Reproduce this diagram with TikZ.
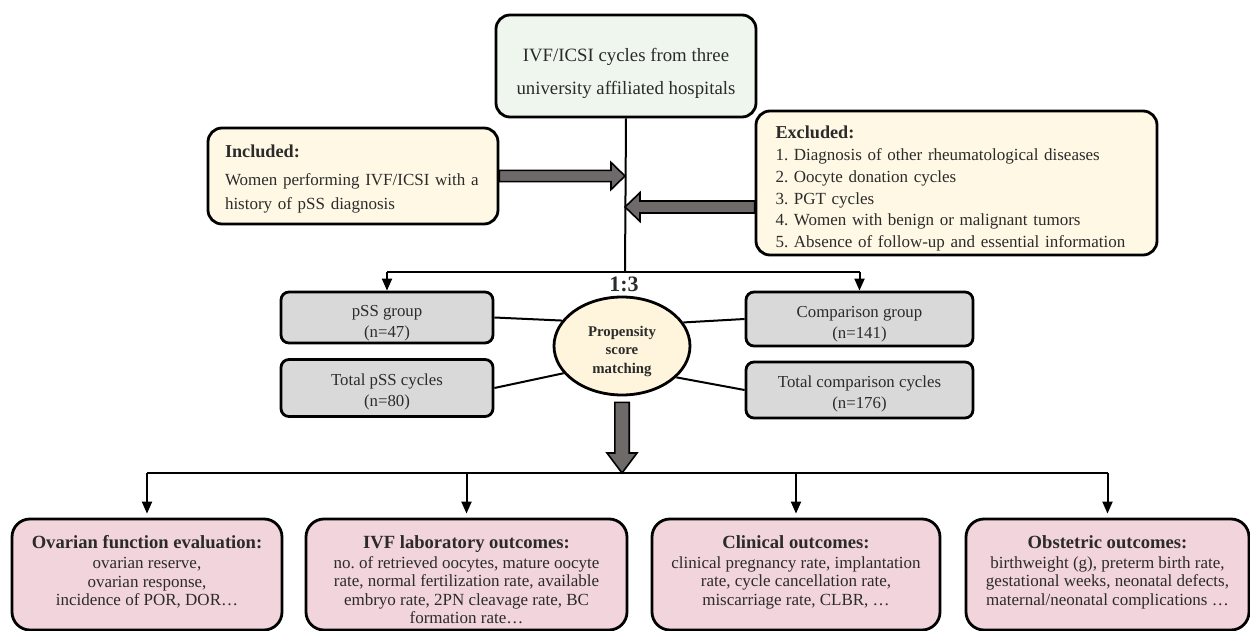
\documentclass[tikz,border=0pt]{standalone}
\usepackage{fontspec}
\setmainfont{Liberation Serif}
\usetikzlibrary{arrows.meta,calc,shapes.geometric}

\definecolor{srcgreen}{HTML}{EEF6EE}
\definecolor{critcream}{HTML}{FFF8E4}
\definecolor{psmcream}{HTML}{FFF5DC}
\definecolor{grpgray}{HTML}{D9D9D9}
\definecolor{outpink}{HTML}{F2D4DC}
\definecolor{fatgray}{HTML}{6E6A6A}
\definecolor{txtgray}{HTML}{2B2B2B}

\newcommand{\padtop}[1]{\rule{0pt}{#1}}

\tikzset{
  box/.style={draw, line width=1.4pt, text=txtgray, align=center, inner sep=0pt},
  srcbox/.style={box, fill=srcgreen, rounded corners=7pt, minimum width=130pt, minimum height=51pt, font=\fontsize{9.4}{16.5}\selectfont},
  critbox/.style={box, fill=critcream, rounded corners=7pt, align=left},
  grpbox/.style={box, fill=grpgray, rounded corners=4pt, font=\fontsize{8.4}{10.5}\selectfont},
  outbox/.style={box, fill=outpink, rounded corners=9pt, minimum height=55.5pt},
  outtext/.style={text=txtgray, align=center, inner sep=0pt, anchor=north, font=\fontsize{8.5}{9.2}\selectfont},
  psm/.style={draw, ellipse, line width=1.4pt, fill=psmcream, minimum width=68pt, minimum height=49pt, inner sep=0pt, align=center, text=txtgray, font=\bfseries\fontsize{7.4}{9.4}\selectfont},
  link/.style={line width=1pt},
  feed/.style={line width=1pt, -{Triangle[width=5pt,length=6pt]}},
  fatarrow/.style={draw=black, line width=0.8pt, fill=fatgray, line join=miter}
}

% from, to, half shaft, half head, head length
\newcommand{\fatarrow}[5]{%
  \coordinate (fa-h) at ($(#2)!#5!(#1)$);
  \filldraw[fatarrow] ($(#1)!#3!90:(#2)$) -- ($(fa-h)!#3!90:(#2)$) -- ($(fa-h)!#4!90:(#2)$)
    -- (#2) -- ($(fa-h)!#4!-90:(#2)$) -- ($(fa-h)!#3!-90:(#2)$) -- ($(#1)!#3!-90:(#2)$) -- cycle;
}

\begin{document}
\frenchspacing
\begin{tikzpicture}[x=0.5pt, y=-0.5pt]
\useasboundingbox (0,0) rectangle (1250,631);
\clip (0,0) rectangle (1250,631);

\node[srcbox] (src) at (626,66) {\padtop{13.6pt}IVF/ICSI cycles from three\\university affiliated hospitals};

\node[critbox, text width=128pt, inner xsep=8.5pt, minimum height=48pt, font=\fontsize{8.5}{12}\selectfont] (inc) at (353,176)
  {\padtop{9pt}{\bfseries\fontsize{9.1}{10}\selectfont Included:}\\[2pt]
   Women performing IVF/ICSI with a\\history of pSS diagnosis};
\node[critbox, text width=181pt, inner xsep=9.75pt, minimum height=72pt, font=\fontsize{8.5}{10.8}\selectfont] (excl) at (956.5,183)
  {\padtop{11.5pt}{\bfseries\fontsize{9.1}{10}\selectfont Excluded:}\\[0.6pt]
   1. Diagnosis of other rheumatological diseases\\
   2. Oocyte donation cycles\\
   3. PGT cycles\\
   4. Women with benign or malignant tumors\\
   5. Absence of follow-up and essential information};

\coordinate (split1) at (625,272);
\coordinate (split2) at (625,473);

\node[grpbox, minimum width=106pt, minimum height=25.5pt] (pssg) at (387,317.5) {\padtop{11pt}pSS group\\(n=47)};
\node[grpbox, minimum width=106pt, minimum height=28.5pt] (psscyc) at (387,388) {\padtop{10pt}Total pSS cycles\\(n=80)};
\node[grpbox, minimum width=113.5pt, minimum height=27pt] (cmpg) at (859.5,319) {\padtop{11pt}Comparison group\\(n=141)};
\node[grpbox, minimum width=113.5pt, minimum height=28pt] (cmpcyc) at (859.5,390) {\padtop{10pt}Total comparison cycles\\(n=176)};

\node[psm] (psm) at (622,346) {\padtop{10.5pt}Propensity\\score\\matching};
\node[text=txtgray, font=\bfseries\fontsize{11}{12}\selectfont] (ratio) at (624,284) {1:3};

\node[outbox, minimum width=135pt] (ovar) at (147,574.5) {};
\node[outbox, minimum width=160.5pt] (ivf) at (466.5,574.5) {};
\node[outbox, minimum width=144pt] (clin) at (796,574.5) {};
\node[outbox, minimum width=141.5pt] (obst) at (1107.5,574.5) {};

\node[outtext] (ovar-t) at ([yshift=-8.8pt]ovar.north)
  {{\bfseries\fontsize{9.3}{9.3}\selectfont Ovarian function evaluation:}\\[0.8pt]
   ovarian reserve,\\ovarian response,\\incidence of POR, DOR…};
\node[outtext] (ivf-t) at ([yshift=-8.8pt]ivf.north)
  {{\bfseries\fontsize{9.3}{9.3}\selectfont IVF laboratory outcomes:}\\[0.8pt]
   no. of retrieved oocytes, mature oocyte\\rate, normal fertilization rate, available\\
   embryo rate, 2PN cleavage rate, BC\\formation rate…};
\node[outtext] (clin-t) at ([yshift=-8.8pt]clin.north)
  {{\bfseries\fontsize{9.3}{9.3}\selectfont Clinical outcomes:}\\[0.8pt]
   clinical pregnancy rate, implantation\\rate, cycle cancellation rate,\\miscarriage rate, CLBR, …};
\node[outtext] (obst-t) at ([yshift=-8.8pt]obst.north)
  {{\bfseries\fontsize{9.3}{9.3}\selectfont Obstetric outcomes:}\\[0.8pt]
   birthweight (g), preterm birth rate,\\gestational weeks, neonatal defects,\\
   maternal/neonatal complications …};

\draw[link] (src.south) -- (split1);
\draw[link] (pssg.north |- split1) -- (cmpg.north |- split1);
\foreach \g in {pssg,cmpg}
  \draw[feed] (\g.north |- split1) -- (\g.north);

\coordinate (incto) at (inc.east -| split1);
\fatarrow{inc.east}{incto}{2.8pt}{6.8pt}{7pt}
\coordinate (exfrom) at ($(excl.west)+(0,24)$);
\coordinate (exto) at (exfrom -| split1);
\fatarrow{exfrom}{exto}{3pt}{7.2pt}{7.5pt}

\draw[link] (pssg.east) -- (psm.157);
\draw[link] (psscyc.east) -- (psm.205);
\draw[link] (cmpg.west) -- (psm.21);
\draw[link] (cmpcyc.west) -- (psm.330);

\coordinate (psmfrom) at ($(psm.south)+(0,6)$);
\coordinate (psmto) at (psmfrom |- split2);
\fatarrow{psmfrom}{psmto}{3.6pt}{7.5pt}{10pt}

\draw[link] (ovar.north |- split2) -- (obst.north |- split2);
\foreach \b in {ovar,ivf,clin,obst}
  \draw[feed, shorten >=2pt] (\b.north |- split2) -- (\b.north);
\end{tikzpicture}
\end{document}
